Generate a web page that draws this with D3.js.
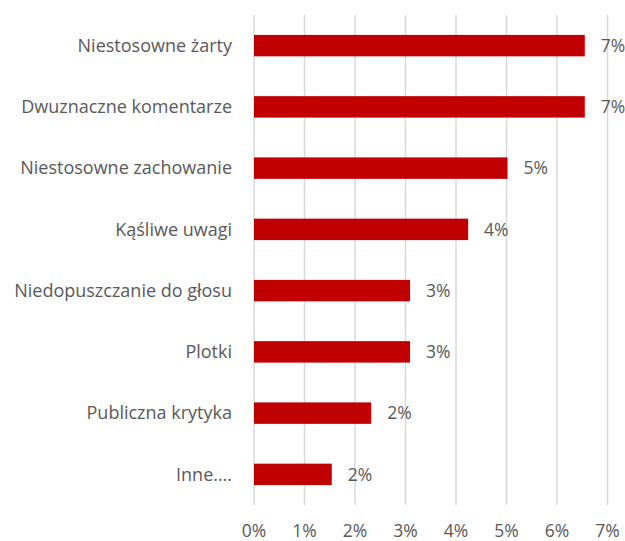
<!DOCTYPE html>
<html>
<head>
<meta charset="utf-8">
<script src="https://cdn.jsdelivr.net/npm/d3@7"></script>
<style>
  body { margin: 0; background: #fff; overflow: hidden; }
  svg { display: block; }
  text { font-family: "Open Sans", sans-serif; fill: #595959; }
</style>
</head>
<body>
<div id="chart"></div>
<script>
var categories = ["Niestosowne żarty", "Dwuznaczne komentarze", "Niestosowne zachowanie",
    "Kąśliwe uwagi", "Niedopuszczanie do głosu", "Plotki", "Publiczna krytyka", "Inne…."];
var values = [6.55, 6.55, 5.02, 4.24, 3.09, 3.09, 2.32, 1.54];
var valueLabels = ["7%", "7%", "5%", "4%", "3%", "3%", "2%", "2%"];
var ticks = [0, 1, 2, 3, 4, 5, 6, 7];

var margin = {top: 15, right: 18, bottom: 36, left: 254},
    width = 625 - margin.left - margin.right,
    height = 541 - margin.top - margin.bottom;

var svg = d3.select("#chart")
    .append("svg")
    .attr("width", 625)
    .attr("height", 541)
    .append("g")
    .attr("transform", "translate(" + margin.left + "," + margin.top + ")");

var x = d3.scaleLinear()
    .domain([0, 7])
    .range([0, 353.5]);

var y = d3.scaleBand()
    .domain(categories)
    .range([0, height])
    .paddingInner(0.65)
    .paddingOuter(0.325);

// gridlines
svg.append("g")
    .selectAll("line")
    .data(ticks)
    .enter()
    .append("line")
    .attr("x1", function (d) { return x(d); })
    .attr("x2", function (d) { return x(d); })
    .attr("y1", 0)
    .attr("y2", height)
    .style("stroke", "#d9d9d9")
    .style("stroke-width", 1.5);

// x tick labels
svg.append("g")
    .selectAll("text")
    .data(ticks)
    .enter()
    .append("text")
    .attr("x", function (d) { return x(d); })
    .attr("y", height + 32)
    .attr("text-anchor", "middle")
    .style("font-size", "17.5px")
    .text(function (d) { return d + "%"; });

// category labels
svg.append("g")
    .selectAll("text")
    .data(categories)
    .enter()
    .append("text")
    .attr("x", -22)
    .attr("y", function (d) { return y(d) + y.bandwidth() / 2; })
    .attr("dy", "0.35em")
    .attr("text-anchor", "end")
    .style("font-size", "18px")
    .text(function (d) { return d; });

// bars
svg.append("g")
    .selectAll("rect")
    .data(values)
    .enter()
    .append("rect")
    .attr("x", x(0))
    .attr("y", function (d, i) { return y(categories[i]); })
    .attr("width", function (d) { return x(d) - x(0); })
    .attr("height", y.bandwidth())
    .style("fill", "#c00000");

// value labels
svg.append("g")
    .selectAll("text")
    .data(values)
    .enter()
    .append("text")
    .attr("x", function (d) { return x(d) + 16; })
    .attr("y", function (d, i) { return y(categories[i]) + y.bandwidth() / 2; })
    .attr("dy", "0.35em")
    .style("font-size", "17.5px")
    .text(function (d, i) { return valueLabels[i]; });
</script>
</body>
</html>
